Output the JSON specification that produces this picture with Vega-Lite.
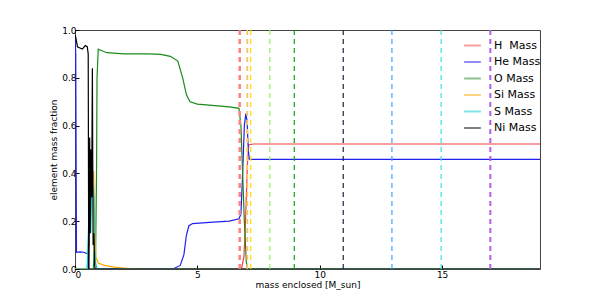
{
  "$schema": "https://vega.github.io/schema/vega-lite/v6.json",
  "width": 465,
  "height": 239,
  "autosize": {"type": "none"},
  "padding": {"left": 75, "top": 30, "right": 60, "bottom": 31},
  "background": "white",
  "config": {
    "font": "DejaVu Sans",
    "view": {"stroke": "#444", "strokeWidth": 1},
    "axis": {"labelFont": "DejaVu Sans", "titleFont": "DejaVu Sans", "labelFontSize": 9, "titleFontSize": 9, "titleFontWeight": "normal", "labelColor": "#000", "titleColor": "#000", "grid": false, "domain": false, "tickColor": "#000", "tickSize": -4}
  },
  "layer": [
    {
      "data": {"values": [
        {"s": "H\u00a0\u00a0Mass", "x": 0, "y": 0}, {"s": "H\u00a0\u00a0Mass", "x": 6.8, "y": 0}, {"s": "H\u00a0\u00a0Mass", "x": 6.9, "y": 0.05}, {"s": "H\u00a0\u00a0Mass", "x": 6.95, "y": 0.15}, {"s": "H\u00a0\u00a0Mass", "x": 7.0, "y": 0.3}, {"s": "H\u00a0\u00a0Mass", "x": 7.05, "y": 0.45}, {"s": "H\u00a0\u00a0Mass", "x": 7.1, "y": 0.52}, {"s": "H\u00a0\u00a0Mass", "x": 7.3, "y": 0.523}, {"s": "H\u00a0\u00a0Mass", "x": 19, "y": 0.523},
        {"s": "He Mass", "x": 0, "y": 0.98}, {"s": "He Mass", "x": 0.03, "y": 0.9}, {"s": "He Mass", "x": 0.06, "y": 0.07}, {"s": "He Mass", "x": 0.2, "y": 0.072}, {"s": "He Mass", "x": 0.35, "y": 0.07}, {"s": "He Mass", "x": 0.5, "y": 0.065}, {"s": "He Mass", "x": 0.55, "y": 0.07}, {"s": "He Mass", "x": 0.57, "y": 0}, {"s": "He Mass", "x": 4.0, "y": 0}, {"s": "He Mass", "x": 4.3, "y": 0.015}, {"s": "He Mass", "x": 4.45, "y": 0.06}, {"s": "He Mass", "x": 4.55, "y": 0.14}, {"s": "He Mass", "x": 4.65, "y": 0.18}, {"s": "He Mass", "x": 4.8, "y": 0.19}, {"s": "He Mass", "x": 5.5, "y": 0.195}, {"s": "He Mass", "x": 6.3, "y": 0.2}, {"s": "He Mass", "x": 6.7, "y": 0.21}, {"s": "He Mass", "x": 6.78, "y": 0.23}, {"s": "He Mass", "x": 6.85, "y": 0.4}, {"s": "He Mass", "x": 6.92, "y": 0.6}, {"s": "He Mass", "x": 6.98, "y": 0.65}, {"s": "He Mass", "x": 7.03, "y": 0.62}, {"s": "He Mass", "x": 7.08, "y": 0.5}, {"s": "He Mass", "x": 7.12, "y": 0.46}, {"s": "He Mass", "x": 7.3, "y": 0.459}, {"s": "He Mass", "x": 19, "y": 0.459},
        {"s": "O Mass", "x": 0, "y": 0}, {"s": "O Mass", "x": 0.75, "y": 0}, {"s": "O Mass", "x": 0.8, "y": 0.1}, {"s": "O Mass", "x": 0.84, "y": 0.05}, {"s": "O Mass", "x": 0.88, "y": 0.4}, {"s": "O Mass", "x": 0.9, "y": 0.8}, {"s": "O Mass", "x": 0.95, "y": 0.92}, {"s": "O Mass", "x": 1.05, "y": 0.915}, {"s": "O Mass", "x": 1.3, "y": 0.905}, {"s": "O Mass", "x": 2.0, "y": 0.9}, {"s": "O Mass", "x": 3.0, "y": 0.9}, {"s": "O Mass", "x": 3.5, "y": 0.898}, {"s": "O Mass", "x": 3.9, "y": 0.89}, {"s": "O Mass", "x": 4.2, "y": 0.87}, {"s": "O Mass", "x": 4.4, "y": 0.8}, {"s": "O Mass", "x": 4.55, "y": 0.73}, {"s": "O Mass", "x": 4.7, "y": 0.7}, {"s": "O Mass", "x": 5.0, "y": 0.69}, {"s": "O Mass", "x": 5.6, "y": 0.685}, {"s": "O Mass", "x": 6.3, "y": 0.678}, {"s": "O Mass", "x": 6.7, "y": 0.672}, {"s": "O Mass", "x": 6.78, "y": 0.6}, {"s": "O Mass", "x": 6.85, "y": 0.4}, {"s": "O Mass", "x": 6.92, "y": 0.2}, {"s": "O Mass", "x": 7.0, "y": 0.03}, {"s": "O Mass", "x": 7.05, "y": 0}, {"s": "O Mass", "x": 19, "y": 0},
        {"s": "Si Mass", "x": 0, "y": 0}, {"s": "Si Mass", "x": 0.5, "y": 0}, {"s": "Si Mass", "x": 0.55, "y": 0.1}, {"s": "Si Mass", "x": 0.6, "y": 0.43}, {"s": "Si Mass", "x": 0.63, "y": 0.2}, {"s": "Si Mass", "x": 0.67, "y": 0.35}, {"s": "Si Mass", "x": 0.72, "y": 0.38}, {"s": "Si Mass", "x": 0.76, "y": 0.41}, {"s": "Si Mass", "x": 0.8, "y": 0.2}, {"s": "Si Mass", "x": 0.85, "y": 0.05}, {"s": "Si Mass", "x": 0.95, "y": 0.025}, {"s": "Si Mass", "x": 1.2, "y": 0.015}, {"s": "Si Mass", "x": 1.6, "y": 0.008}, {"s": "Si Mass", "x": 2.2, "y": 0.002}, {"s": "Si Mass", "x": 3, "y": 0}, {"s": "Si Mass", "x": 19, "y": 0},
        {"s": "S Mass", "x": 0, "y": 0}, {"s": "S Mass", "x": 0.5, "y": 0}, {"s": "S Mass", "x": 0.56, "y": 0.2}, {"s": "S Mass", "x": 0.6, "y": 0.33}, {"s": "S Mass", "x": 0.64, "y": 0.15}, {"s": "S Mass", "x": 0.68, "y": 0.32}, {"s": "S Mass", "x": 0.73, "y": 0.35}, {"s": "S Mass", "x": 0.77, "y": 0.3}, {"s": "S Mass", "x": 0.8, "y": 0.08}, {"s": "S Mass", "x": 0.85, "y": 0.02}, {"s": "S Mass", "x": 0.9, "y": 0}, {"s": "S Mass", "x": 19, "y": 0},
        {"s": "Ni Mass", "x": 0, "y": 0.98}, {"s": "Ni Mass", "x": 0.03, "y": 0.97}, {"s": "Ni Mass", "x": 0.1, "y": 0.93}, {"s": "Ni Mass", "x": 0.2, "y": 0.925}, {"s": "Ni Mass", "x": 0.3, "y": 0.92}, {"s": "Ni Mass", "x": 0.42, "y": 0.935}, {"s": "Ni Mass", "x": 0.5, "y": 0.93}, {"s": "Ni Mass", "x": 0.54, "y": 0.9}, {"s": "Ni Mass", "x": 0.56, "y": 0}, {"s": "Ni Mass", "x": 0.58, "y": 0.1}, {"s": "Ni Mass", "x": 0.6, "y": 0.55}, {"s": "Ni Mass", "x": 0.62, "y": 0.15}, {"s": "Ni Mass", "x": 0.65, "y": 0.5}, {"s": "Ni Mass", "x": 0.68, "y": 0.3}, {"s": "Ni Mass", "x": 0.71, "y": 0.84}, {"s": "Ni Mass", "x": 0.74, "y": 0.1}, {"s": "Ni Mass", "x": 0.77, "y": 0.15}, {"s": "Ni Mass", "x": 0.8, "y": 0.02}, {"s": "Ni Mass", "x": 0.82, "y": 0}, {"s": "Ni Mass", "x": 19, "y": 0}
      ]},
      "mark": {"type": "line", "strokeWidth": 1.2, "clip": true},
      "encoding": {
        "x": {"field": "x", "type": "quantitative", "scale": {"domain": [0, 19], "nice": false, "zero": false}, "axis": {"values": [0, 5, 10, 15], "format": "d", "title": "mass enclosed [M_sun]", "titlePadding": 1, "labelPadding": 5}},
        "y": {"field": "y", "type": "quantitative", "scale": {"domain": [0, 1], "nice": false}, "axis": {"values": [0, 0.2, 0.4, 0.6, 0.8, 1.0], "format": ".1f", "title": "element mass fraction", "titlePadding": 3, "labelPadding": 3}},
        "color": {"field": "s", "type": "nominal", "sort": null,
          "scale": {"domain": ["H\u00a0\u00a0Mass", "He Mass", "O Mass", "Si Mass", "S Mass", "Ni Mass"], "range": ["#f04040", "#2020ee", "#1a8a1a", "#ffa500", "#00c8c8", "#000000"]},
          "legend": {"orient": "none", "legendX": 388, "legendY": 6, "title": null, "symbolType": "stroke", "symbolSize": 280, "symbolStrokeWidth": 2, "symbolOpacity": 0.5, "labelFontSize": 11, "labelFont": "DejaVu Sans", "labelColor": "#000", "rowPadding": 1.5, "symbolOffset": 0, "labelOffset": 12}}
      }
    },
    {
      "data": {"values": [
        {"x": 6.73, "c": "#ff8080", "w": 2.5},
        {"x": 7.04, "c": "#ffc060", "w": 1.8},
        {"x": 7.18, "c": "#f5e000", "w": 1.2},
        {"x": 7.96, "c": "#90ee60", "w": 1.2},
        {"x": 8.96, "c": "#10a010", "w": 1.2},
        {"x": 10.96, "c": "#222244", "w": 1.2},
        {"x": 12.95, "c": "#40a0ff", "w": 1.2},
        {"x": 14.96, "c": "#40e0e0", "w": 1.2},
        {"x": 16.97, "c": "#b060e8", "w": 2}
      ]},
      "mark": {"type": "rule", "strokeDash": [5, 4]},
      "encoding": {
        "x": {"field": "x", "type": "quantitative"},
        "color": {"field": "c", "type": "nominal", "scale": null, "legend": null},
        "strokeWidth": {"field": "w", "type": "quantitative", "scale": null, "legend": null}
      }
    }
  ]
}
